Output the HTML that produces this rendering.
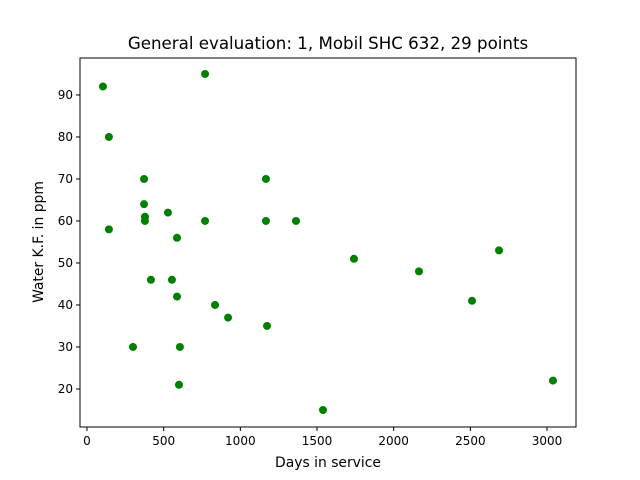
<!DOCTYPE html>
<html><head><meta charset="utf-8"><style>body{margin:0;background:#fff}svg{display:block;font-family:"DejaVu Sans","Liberation Sans",sans-serif}</style></head>
<body>
<svg id="chart" width="640" height="480">
<rect x="0" y="0" width="640" height="480" fill="#fff"/>
<text x="328" y="49" font-size="16.67" text-anchor="middle">General evaluation: 1, Mobil SHC 632, 29 points</text>
<g id="ticks"></g>
<g id="points"></g>
<rect x="80" y="58" width="496" height="369" fill="none" stroke="#000" stroke-width="1"/>
<text x="328" y="467" font-size="13.9" text-anchor="middle">Days in service</text>
<text x="43" y="242" font-size="13.9" text-anchor="middle" transform="rotate(-90 43 242)">Water K.F. in ppm</text>
</svg>
<script>
const days=[104,143,143,300,372,372,378,378,417,528,554,587,587,606,600,770,770,835,920,1167,1167,1174,1363,1539,1741,2165,2511,2687,3039];
const water=[92,80,58,30,70,64,61,60,46,62,46,56,42,30,21,95,60,40,37,70,60,35,60,15,51,48,41,53,22];
const xTicks=[0,500,1000,1500,2000,2500,3000];
const yTicks=[20,30,40,50,60,70,80,90];
const L=80,R=576,T=58,B=427,xmin=-45.6,xmax=3189,ymin=10.95,ymax=98.8;
const sx=v=>L+(v-xmin)/(xmax-xmin)*(R-L);
const sy=v=>B-(v-ymin)/(ymax-ymin)*(B-T);
const NS="http://www.w3.org/2000/svg";
const tg=document.getElementById('ticks');
xTicks.forEach(t=>{
 const l=document.createElementNS(NS,'line');
 l.setAttribute('x1',sx(t));l.setAttribute('x2',sx(t));l.setAttribute('y1',B);l.setAttribute('y2',B+4);l.setAttribute('stroke','#000');
 
 
 tg.appendChild(l);
 const tx=document.createElementNS(NS,'text');
 tx.setAttribute('x',sx(t));tx.setAttribute('y',B+18);tx.setAttribute('font-size','12');tx.setAttribute('text-anchor','middle');
 tx.textContent=t;
 
 
 tg.appendChild(tx);
});
yTicks.forEach(t=>{
 const l=document.createElementNS(NS,'line');
 l.setAttribute('x1',L-4);l.setAttribute('x2',L);l.setAttribute('y1',sy(t));l.setAttribute('y2',sy(t));l.setAttribute('stroke','#000');
 
 
 tg.appendChild(l);
 const tx=document.createElementNS(NS,'text');
 tx.setAttribute('x',L-7);tx.setAttribute('y',sy(t)+4);tx.setAttribute('font-size','12');tx.setAttribute('text-anchor','end');
 tx.textContent=t;
 
 
 tg.appendChild(tx);
});
const pg=document.getElementById('points');
days.forEach((d,i)=>{
 const c=document.createElementNS(NS,'circle');
 c.setAttribute('cx',sx(d));c.setAttribute('cy',sy(water[i]));c.setAttribute('r','4');c.setAttribute('fill','#008000');
 
 
 pg.appendChild(c);
});
</script>
</body></html>
